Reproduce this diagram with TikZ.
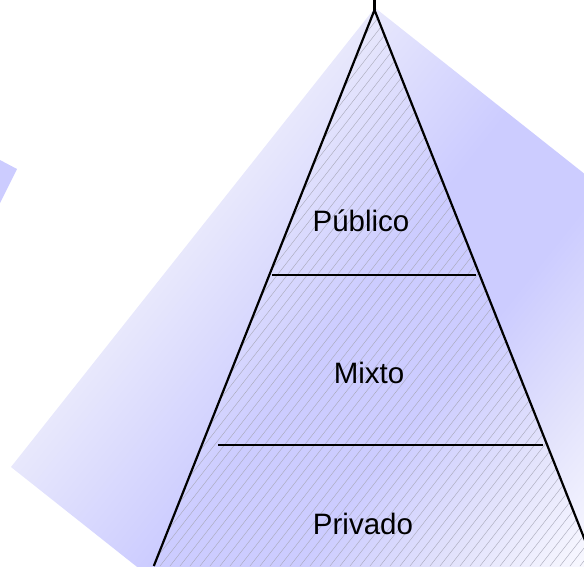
\documentclass[tikz,border=0pt]{standalone}
\usepackage{fontspec}
\setmainfont{Liberation Sans}
\definecolor{bgA}{HTML}{E8E8FC}
\definecolor{bgB}{HTML}{CCCCFF}
\definecolor{bgC}{HTML}{E2E2FC}
\definecolor{bgD}{HTML}{F8F8FF}
\definecolor{hatchgray}{HTML}{A8A8B8}
\pgfdeclarehorizontalshading{bgshade}{100bp}{color(0bp)=(bgA); color(25bp)=(bgA); color(39.5bp)=(bgB); color(49.5bp)=(bgB); color(59.1bp)=(bgC); color(68.5bp)=(bgD); color(75bp)=(white); color(100bp)=(white)}
\tikzset{
  edge/.style={line width=2.2pt, black},
  divider/.style={line width=2pt, black},
  hatchline/.style={line width=0.4pt, hatchgray},
  lbl/.style={font=\fontsize{29.5}{34}\selectfont, inner sep=0pt, anchor=base}
}
\begin{document}
\begin{tikzpicture}[x=1pt,y=-1pt]
\useasboundingbox (0,0) rectangle (584,566);
\begin{scope}
\clip (0,0) rectangle (584,566);
\begin{scope}[transform canvas={shift={(11pt,-467pt)},rotate=-38.4}]
\shade[shading=bgshade] (0pt,0pt) rectangle (586pt,586pt);
\end{scope}
\fill[bgB] (0,160) -- (17,169) -- (0,203) -- cycle;
\coordinate (top) at (374.5,0);
\coordinate (apex) at (374.5,10);
\coordinate (bl) at (153.8,566);
\coordinate (br) at (595.2,566);
\begin{scope}
\clip (apex) -- (bl) -- (br) -- cycle;
\foreach \b in {-300,-290,...,600} \draw[hatchline] (\b,566) -- ({\b+442},0);
\end{scope}
\draw[edge, line join=miter] (bl) -- (apex) -- (br);
\draw[edge] (top) -- (apex);
\coordinate (l1a) at (272,275);
\coordinate (l1b) at (476,275);
\coordinate (l2a) at (218,445);
\coordinate (l2b) at (543,445);
\draw[divider] (l1a) -- (l1b);
\draw[divider] (l2a) -- (l2b);
\node[lbl] (pub) at (361,231) {Público};
\node[lbl] (mix) at (369,383) {Mixto};
\node[lbl] (pri) at (363,534) {Privado};
\end{scope}
\end{tikzpicture}
\end{document}
